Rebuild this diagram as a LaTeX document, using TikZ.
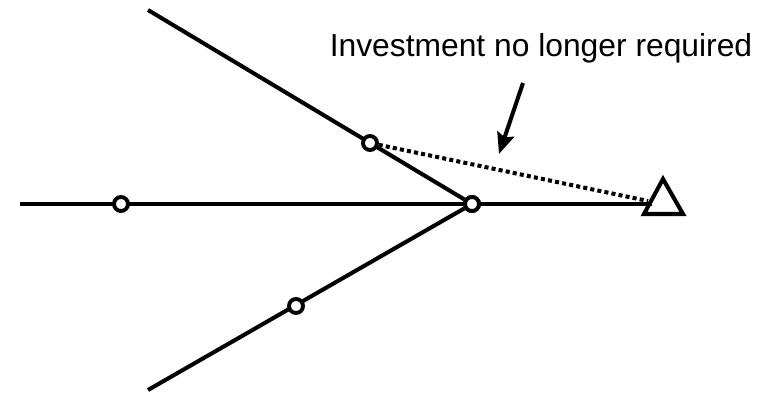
\documentclass[tikz,border=0pt]{standalone}
\usepackage{fontspec}
\setmainfont{Liberation Sans}
\usetikzlibrary{arrows.meta}
\begin{document}
\begin{tikzpicture}[x=0.02cm,y=-0.02cm,
  ln/.style={line width=2.3pt},
  pt/.style={circle,draw,fill=white,line width=2.2pt,minimum size=0.28cm,inner sep=0pt},
  lbl/.style={font=\fontsize{18.1}{21}\selectfont,inner sep=0pt}]
\useasboundingbox (0,0) rectangle (762,395);
% end coordinates
\coordinate (ul) at (148,10);
\coordinate (hl) at (20,204);
\coordinate (ll) at (148,390);
\coordinate (hr) at (652,204);
% triangle
\coordinate (t1) at (663,179);
\coordinate (t2) at (644,214);
\coordinate (t3) at (683,214);
\coordinate (dend) at (648,201);
% nodes
\node[pt] (j) at (472,204) {};
\draw[ln] (ul) -- (j);
\draw[ln] (hl) -- (hr);
\draw[ln] (ll) -- (j);
\draw[ln,line join=miter] (t1) -- (t2) -- (t3) -- cycle;
\node[pt] (a) at (121,204) {};
\node[pt] (b) at (370,143) {};
\node[pt] (c) at (296,306) {};
\node[pt] (j2) at (472,204) {};
\draw[line width=2.3pt,dash pattern=on 2.3pt off 1.8pt] (b) -- (dend);
\node[lbl] (txt) at (541,48) {Investment no longer required};
\coordinate (as) at (523,83);
\coordinate (ae) at (499,154);
\draw[ln,-{Stealth[length=12pt,width=10pt,inset=2pt]}] (as) -- (ae);
\end{tikzpicture}
\end{document}
